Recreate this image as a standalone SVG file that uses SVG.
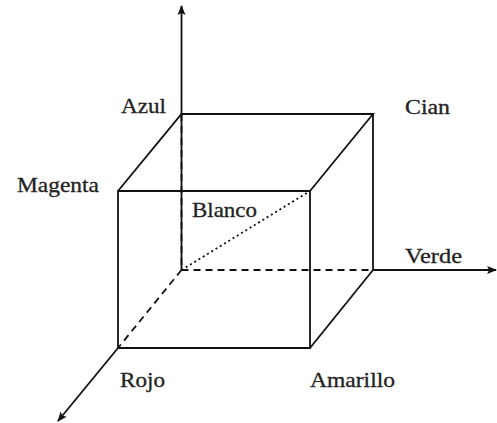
<svg xmlns="http://www.w3.org/2000/svg" width="497" height="423" viewBox="0 0 497 423">
<style>
.s{stroke:#111;stroke-width:1.8;fill:none}
.d{stroke:#111;stroke-width:1.8;fill:none;stroke-dasharray:7 5}
.p{stroke:#111;stroke-width:1.8;fill:none;stroke-dasharray:2 3}
text{font-family:"Liberation Serif","Times New Roman",serif;font-size:21px;fill:#222;stroke:#222;stroke-width:0.3}
</style>
<defs>
<marker id="ah" viewBox="0 0 10 10" refX="9" refY="5" markerWidth="5.5" markerHeight="5.5" orient="auto" markerUnits="strokeWidth">
<path d="M0,1 L10,5 L0,9 L2,5 Z" fill="#111"/>
</marker>
</defs>
<g id="connectors">
<line class="s" x1="181.5" y1="270" x2="181.5" y2="6" marker-end="url(#ah)"/>
<line class="s" x1="373" y1="270" x2="496" y2="270" marker-end="url(#ah)"/>
<line class="s" x1="118" y1="348" x2="58" y2="421" marker-end="url(#ah)"/>
<polyline class="s" points="118,348 118,191 310,191 310,348 118,348"/>
<polyline class="s" points="118,191 181.5,114 373,114 310,191"/>
<line class="s" x1="373" y1="114" x2="373" y2="270"/>
<line class="s" x1="373" y1="270" x2="310" y2="348"/>
<line class="d" x1="181.5" y1="114" x2="181.5" y2="270"/>
<line class="d" x1="181.5" y1="270" x2="373" y2="270"/>
<line class="d" x1="181.5" y1="270" x2="118" y2="348"/>
<line class="p" x1="181.5" y1="270" x2="310" y2="191"/>
</g>
<g id="azul"><text x="121" y="113" textLength="45" lengthAdjust="spacingAndGlyphs">Azul</text></g>
<g id="cian"><text x="405" y="114" textLength="45" lengthAdjust="spacingAndGlyphs">Cian</text></g>
<g id="magenta"><text x="17" y="192" textLength="82" lengthAdjust="spacingAndGlyphs">Magenta</text></g>
<g id="blanco"><text x="192" y="217" textLength="65" lengthAdjust="spacingAndGlyphs">Blanco</text></g>
<g id="verde"><text x="405" y="263" textLength="57" lengthAdjust="spacingAndGlyphs">Verde</text></g>
<g id="rojo"><text x="120" y="387" textLength="45" lengthAdjust="spacingAndGlyphs">Rojo</text></g>
<g id="amarillo"><text x="310" y="387" textLength="85" lengthAdjust="spacingAndGlyphs">Amarillo</text></g>
</svg>
